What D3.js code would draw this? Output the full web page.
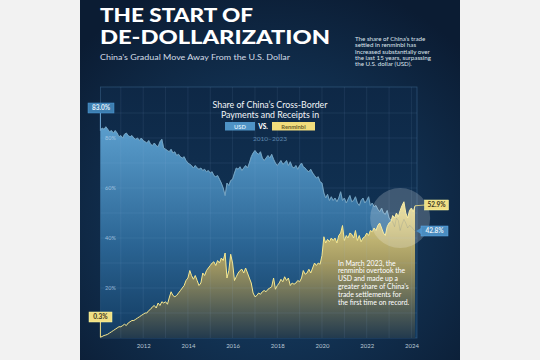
<!DOCTYPE html>
<html><head><meta charset="utf-8">
<script src="https://cdn.jsdelivr.net/npm/d3@7"></script>
<style>html,body{margin:0;padding:0;background:#f2f2f2;}svg{display:block;}</style>
</head><body>
<svg id="c" width="540" height="360"></svg>
<script>
// ---- data (monthly, starting Feb 2010) ----
const startMonth = "2010-02";
const usdShare = [
  83, 84, 83.5, 84.5, 83.5, 82.5, 83, 82, 83, 82, 80.5,
  81, 80, 81.5, 82, 81, 80.5, 81, 80, 79.5, 80, 79, 80,
  79, 78.5, 78, 79, 77.5, 77, 78, 77, 76.5, 78.5, 79.5, 76,
  75.5, 75, 74.5, 75.5, 74, 74.5, 73, 73.5, 72.5, 72, 72.5, 71,
  70, 69.5, 69, 68, 69, 68, 67.5, 68, 67, 67.5, 66.5, 67,
  66, 66.5, 65, 64.5, 65, 63.5, 62, 60, 57, 62, 61, 63,
  63.5, 66, 68, 67.5, 68.5, 67, 68, 69, 68, 70, 72.5, 74,
  75, 74, 73.5, 74.5, 72, 71, 72, 73, 72, 73.5, 71.5, 70,
  69, 70, 71, 69.5, 70, 71, 69, 70.5, 68.5, 68, 69, 67.5,
  69, 70, 68.5, 68, 67, 66.5, 67.5, 66, 65, 64, 64.5, 62.5,
  62, 58, 56, 57.5, 55, 56.5, 55, 56, 54.5, 56, 58.5, 55,
  56, 54, 55.5, 57, 54.5, 55, 56.5, 54, 53, 55, 56, 54,
  55, 56.5, 53, 54, 52.5, 53, 51.5, 50.5, 52, 50, 49.5, 51,
  48, 47, 46.5, 44.5, 48, 47, 43, 45.5, 47.5, 46, 44, 45,
  44.5, 43.5, 42.8
];
const rmbShare = [
  0.3, 0.6, 1, 1.2, 1.5, 2, 2.5, 3, 3.5, 4, 4.5,
  4.5, 5, 5.5, 5, 6, 6.5, 7, 7, 7.5, 8, 8.5, 9,
  9.5, 10, 10, 11, 11.5, 12.5, 13, 12, 14, 13, 14.5, 14,
  14.5, 13.5, 16, 18.5, 17, 16.5, 17, 18, 19, 20, 21, 23,
  24, 27, 25, 23.5, 25, 23, 21, 22, 26, 25, 27, 28,
  29, 30, 30.5, 29, 31, 30, 32, 31, 34, 24, 27, 33.5,
  30, 23, 24.5, 26, 27, 27.5, 26, 28, 26, 24, 22, 18,
  16.5, 17, 18, 17.5, 18.5, 19, 18.5, 19.5, 20, 20.5, 24, 19.5,
  21, 22, 23.5, 22.5, 24.5, 23, 24, 21, 22, 21.5, 22, 23,
  22.5, 24, 27, 25.5, 26, 27.5, 26, 28, 30, 29, 30, 29.5,
  33, 40.5, 38, 39.5, 38.5, 40, 39, 40, 38, 41, 42, 45,
  39, 41, 40, 42, 41.5, 40, 43, 39, 41, 38.5, 40, 40.5,
  42, 41, 43, 42.5, 44, 43, 45, 46, 44, 42, 41, 44.5,
  46, 46.5, 49, 48, 50, 48.5, 51, 53, 54.5, 50, 48, 51,
  52, 50.5, 52.9
];
const yearTicks = [2012, 2014, 2016, 2018, 2020, 2022, 2024];
const pctTicks = [20, 40, 60, 80];
const titleLines = ["THE START OF", "DE-DOLLARIZATION"];
const subtitle = "China\u2019s Gradual Move Away From the U.S. Dollar";
const introLines = ["The share of China\u2019s trade", "settled in renminbi has", "increased substantially over", "the last 15 years, surpassing", "the U.S. dollar (USD)."];
const chartTitle = ["Share of China\u2019s Cross-Border", "Payments and Receipts in"];
const legendLabels = ["USD", "VS.", "Renminbi"];
const period = "2010\u20132023";
const noteLines = ["In March 2023, the", "renminbi overtook the", "USD and made up a", "greater share of China\u2019s", "trade settlements for", "the first time on record."];

// ---- build ----
const parse = d3.timeParse("%Y-%m");
const dates = d3.timeMonth.range(parse(startMonth), d3.timeMonth.offset(parse(startMonth), usdShare.length));
const data = dates.map((d, i) => ({date: d, usd: usdShare[i], rmb: rmbShare[i]}));

const svg = d3.select("#c");
const defs = svg.append("defs");
const F = "'Lato','Open Sans',sans-serif";

const pg = defs.append("radialGradient").attr("id", "pg").attr("cx", "50%").attr("cy", "62%").attr("r", "70%");
pg.append("stop").attr("offset", "0%").attr("stop-color", "#184670");
pg.append("stop").attr("offset", "100%").attr("stop-color", "#0b1c33");
svg.append("rect").attr("x", 80).attr("y", 0).attr("width", 380).attr("height", 360).attr("fill", "url(#pg)");

const x = d3.scaleTime().domain([new Date(2010, 0, 1), new Date(2024, 0, 1)]).range([98.5, 411.4]);
const y = d3.scaleLinear().domain([0, 100]).range([338, 88]);
const frame = {x0: 100.5, x1: 417, y0: 87, y1: 338};

const bg = defs.append("linearGradient").attr("id", "bg").attr("x1", 0).attr("y1", 0).attr("x2", 0).attr("y2", 1);
bg.append("stop").attr("offset", "0%").attr("stop-color", "#0e2846");
bg.append("stop").attr("offset", "100%").attr("stop-color", "#123a5f");
svg.append("rect").attr("x", frame.x0).attr("y", frame.y0).attr("width", frame.x1 - frame.x0).attr("height", frame.y1 - frame.y0)
  .attr("fill", "url(#bg)").attr("stroke", "#3f6a92").attr("stroke-opacity", 0.6).attr("stroke-width", 0.8);

const ug = defs.append("linearGradient").attr("id", "ug").attr("gradientUnits", "userSpaceOnUse").attr("x1", 0).attr("y1", y(84)).attr("x2", 0).attr("y2", y(0));
ug.append("stop").attr("offset", "0%").attr("stop-color", "#5a9dcc");
ug.append("stop").attr("offset", "55%").attr("stop-color", "#2b6594");
ug.append("stop").attr("offset", "100%").attr("stop-color", "#123a60");
const rg = defs.append("linearGradient").attr("id", "rg").attr("gradientUnits", "userSpaceOnUse").attr("x1", 0).attr("y1", y(55)).attr("x2", 0).attr("y2", y(0));
rg.append("stop").attr("offset", "0%").attr("stop-color", "#ebdc8c");
rg.append("stop").attr("offset", "45%").attr("stop-color", "#a49a62");
rg.append("stop").attr("offset", "100%").attr("stop-color", "#223a4e");

const areaU = d3.area().x(d => x(d.date)).y0(y(0)).y1(d => y(d.usd));
const areaR = d3.area().x(d => x(d.date)).y0(y(0)).y1(d => y(d.rmb));
const lineU = d3.line().x(d => x(d.date)).y(d => y(d.usd));
const lineR = d3.line().x(d => x(d.date)).y(d => y(d.rmb));

svg.append("path").datum(data).attr("d", areaU).attr("fill", "url(#ug)");
svg.append("path").datum(data).attr("d", lineU).attr("fill", "none").attr("stroke", "#86bfe6").attr("stroke-width", 0.9);
svg.append("path").datum(data).attr("d", areaR).attr("fill", "url(#rg)");
svg.append("path").datum(data).attr("d", lineU).attr("fill", "none").attr("stroke", "#5a6a70").attr("stroke-opacity", 0.35).attr("stroke-width", 0.7);
svg.append("path").datum(data).attr("d", lineR).attr("fill", "none").attr("stroke", "#f7e88f").attr("stroke-width", 1);

const g = svg.append("g");
const gridYears = d3.range(2011, 2025).map(v => new Date(v, 0, 1));
g.selectAll("line.v").data(gridYears).join("line")
  .attr("x1", d => x(d)).attr("x2", d => x(d)).attr("y1", frame.y0).attr("y2", frame.y1)
  .attr("stroke", "#9cc3e6").attr("stroke-opacity", 0.16).attr("stroke-width", 0.6);
g.selectAll("line.h").data(d3.range(10, 100, 10)).join("line")
  .attr("x1", frame.x0).attr("x2", frame.x1).attr("y1", d => y(d)).attr("y2", d => y(d))
  .attr("stroke", "#9cc3e6").attr("stroke-opacity", 0.16).attr("stroke-width", 0.6);

svg.selectAll("text.yl").data(pctTicks).join("text")
  .attr("x", 105).attr("y", d => y(d) + 2).text(d => d + "%")
  .attr("font-family", F).attr("font-size", 5.5).attr("fill", "#b9d2e8").attr("fill-opacity", 0.8);

const xa = d3.axisBottom(x).tickValues(yearTicks.map(v => new Date(v, 0, 1))).tickFormat(d3.timeFormat("%Y")).tickSize(0);
const xg = svg.append("g").attr("transform", `translate(0,${frame.y1 + 3})`).call(xa);
xg.select(".domain").remove();
xg.selectAll("text").attr("font-family", F).attr("font-size", 6).attr("fill", "#b8c6d4");

svg.append("circle").attr("cx", x(new Date(2023, 6, 1))).attr("cy", 218).attr("r", 30)
  .attr("fill", "#ffffff").attr("fill-opacity", 0.2);

svg.append("text").attr("x", 100).attr("y", 22).text(titleLines[0]).attr("font-family", F).attr("font-weight", 900)
  .attr("font-size", 19.5).attr("fill", "#ffffff").attr("textLength", 153).attr("lengthAdjust", "spacingAndGlyphs");
svg.append("text").attr("x", 100).attr("y", 44).text(titleLines[1]).attr("font-family", F).attr("font-weight", 900)
  .attr("font-size", 19.5).attr("fill", "#ffffff").attr("textLength", 230).attr("lengthAdjust", "spacingAndGlyphs");
svg.append("text").attr("x", 100).attr("y", 60).text(subtitle).attr("font-family", F).attr("font-size", 8.2)
  .attr("fill", "#d3dce6").attr("textLength", 190).attr("lengthAdjust", "spacingAndGlyphs");
svg.selectAll("text.intro").data(introLines).join("text")
  .attr("x", 355).attr("y", (d, i) => 41 + i * 6.3).text(d => d)
  .attr("font-family", F).attr("font-size", 6.2).attr("fill", "#dfe6ee");

svg.selectAll("text.ct").data(chartTitle).join("text")
  .attr("x", 270).attr("y", (d, i) => 108 + i * 10).attr("text-anchor", "middle").text(d => d)
  .attr("font-family", F).attr("font-size", 8.8).attr("fill", "#f2f5f8");
svg.append("rect").attr("x", 225).attr("y", 122).attr("width", 30).attr("height", 8.5).attr("fill", "#4e93c6");
svg.append("text").attr("x", 240).attr("y", 128.6).attr("text-anchor", "middle").text(legendLabels[0])
  .attr("font-family", F).attr("font-size", 5.8).attr("font-weight", 700).attr("fill", "#d6e8f5");
svg.append("text").attr("x", 263).attr("y", 129).attr("text-anchor", "middle").text(legendLabels[1])
  .attr("font-family", F).attr("font-size", 6.5).attr("font-weight", 900).attr("fill", "#ffffff");
svg.append("rect").attr("x", 272).attr("y", 122).attr("width", 43).attr("height", 8.5).attr("fill", "#f0dc7c");
svg.append("text").attr("x", 293.5).attr("y", 128.6).attr("text-anchor", "middle").text(legendLabels[2])
  .attr("font-family", F).attr("font-size", 5.8).attr("font-weight", 700).attr("fill", "#6b5f2a");
svg.append("text").attr("x", 270).attr("y", 140.5).attr("text-anchor", "middle").text(period)
  .attr("font-family", F).attr("font-size", 6.5).attr("fill", "#5d86ad");

svg.selectAll("text.note").data(noteLines).join("text")
  .attr("x", 338).attr("y", (d, i) => 265.5 + i * 7.8).text(d => d)
  .attr("font-family", F).attr("font-size", 6.9).attr("fill", "#ffffff");

const first = data[0], last = data[data.length - 1];
function callout(bx, by, w, fill, txtFill, label) {
  svg.append("rect").attr("x", bx).attr("y", by).attr("width", w).attr("height", 10).attr("fill", fill)
    .attr("stroke", d3.color(fill).brighter(0.6)).attr("stroke-width", 0.5);
  svg.append("text").attr("x", bx + w / 2).attr("y", by + 7.3).attr("text-anchor", "middle").text(label)
    .attr("font-family", F).attr("font-size", 6.5).attr("font-weight", 700).attr("fill", txtFill);
}
svg.append("line").attr("x1", x(first.date)).attr("x2", x(first.date)).attr("y1", 113).attr("y2", y(first.usd))
  .attr("stroke", "#6fa9d6").attr("stroke-width", 1);
callout(88, 103, 26, "#3d7eb0", "#e6f0f8", d3.format(".1f")(first.usd) + "%");
svg.append("line").attr("x1", x(first.date)).attr("x2", x(first.date)).attr("y1", 322).attr("y2", y(first.rmb))
  .attr("stroke", "#f1df84").attr("stroke-width", 1);
callout(89, 312, 23, "#f1df84", "#3a3520", d3.format(".1f")(first.rmb) + "%");
svg.append("line").attr("x1", x(last.date)).attr("x2", 425).attr("y1", y(last.rmb)).attr("y2", 205)
  .attr("stroke", "#f1df84").attr("stroke-width", 0.8);
callout(424.5, 200, 24, "#f1df84", "#3a3520", d3.format(".1f")(last.rmb) + "%");
svg.append("path").attr("d", `M${x(last.date) + 1},${y(last.usd)} L421,${y(last.usd) - 3} L421,${y(last.usd) + 3} Z`).attr("fill", "#4a8cc0");
callout(421, y(last.usd) - 5, 27, "#4a8cc0", "#e6f0f8", d3.format(".1f")(last.usd) + "%");
</script>
</body></html>
